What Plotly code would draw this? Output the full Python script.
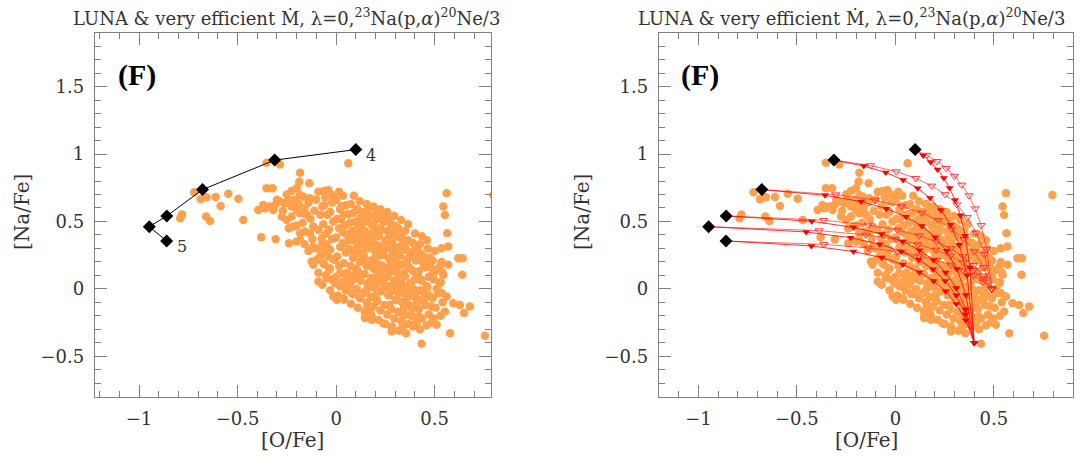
import plotly.graph_objects as go

# ---------------- observed stars ([O/Fe], [Na/Fe]) ----------------
star_points = [
    (-0.791, 0.524), (-0.782, 0.551), (-0.720, 0.716), (-0.687, 0.664), (-0.657, 0.679),
    (-0.660, 0.536), (-0.640, 0.504), (-0.611, 0.682), (-0.586, 0.615), (-0.547, 0.706),
    (-0.496, 0.669), (-0.471, 0.511),
    (-0.395, 0.585), (-0.370, 0.622), (-0.361, 0.598), (-0.336, 0.610), (-0.319, 0.585),
    (-0.310, 0.622), (-0.285, 0.647), (-0.260, 0.635), (-0.243, 0.659), (-0.226, 0.610),
    (-0.200, 0.585), (-0.183, 0.561), (-0.276, 0.536), (-0.251, 0.511), (-0.226, 0.536),
    (-0.217, 0.462), (-0.183, 0.413), (-0.158, 0.425), (-0.133, 0.413), (-0.116, 0.462),
    (-0.090, 0.437), (-0.073, 0.375), (-0.307, 0.368), (-0.380, 0.383), (-0.239, 0.338),
    (-0.200, 0.351), (-0.183, 0.363), (-0.116, 0.314), (-0.099, 0.215), (-0.082, 0.240),
    (-0.124, 0.203), (-0.116, 0.178), (-0.090, 0.054), (-0.048, 0.079), (-0.031, 0.153),
    (-0.006, 0.215), (-0.006, 0.042),
    (-0.226, 0.726), (-0.200, 0.746), (-0.183, 0.696), (-0.166, 0.684), (-0.133, 0.672),
    (-0.090, 0.721), (-0.065, 0.726), (-0.048, 0.704), (-0.040, 0.733), (-0.014, 0.684),
    (-0.183, 0.862), (-0.187, 0.795), (-0.136, 0.783), (-0.353, 0.746), (-0.322, 0.746),
    (-0.353, 0.936), (-0.285, 0.923), (0.062, 0.931),
    (-0.300, 0.660), (-0.270, 0.580), (-0.250, 0.700), (-0.210, 0.660), (-0.190, 0.630),
    (-0.160, 0.600), (-0.150, 0.550), (-0.130, 0.520), (-0.170, 0.490), (-0.200, 0.470),
    (-0.240, 0.450), (-0.140, 0.640), (-0.110, 0.580), (-0.100, 0.660), (-0.080, 0.550),
    (-0.060, 0.620), (-0.120, 0.370), (-0.160, 0.330), (-0.140, 0.280), (-0.100, 0.300),
    (-0.070, 0.280), (-0.050, 0.330), (-0.090, 0.120), (-0.060, 0.180), (-0.040, 0.240),
    (-0.070, 0.030), (-0.050, 0.100), (-0.065, 0.190), (-0.055, 0.260), (-0.070, 0.340),
    (-0.050, 0.410), (-0.065, 0.480), (-0.045, 0.550), (-0.070, 0.610), (-0.055, 0.680),
    (-0.030, -0.010), (-0.020, 0.070), (-0.035, 0.140), (-0.015, 0.220), (-0.030, 0.290),
    (-0.020, 0.370), (-0.035, 0.440), (-0.015, 0.500), (-0.030, 0.570), (-0.020, 0.640),
    (-0.025, 0.700),
    (0.010, -0.050), (0.020, 0.020), (0.000, 0.090), (0.015, 0.170), (0.005, 0.240),
    (0.020, 0.310), (0.000, 0.380), (0.015, 0.450), (0.005, 0.520), (0.020, 0.590),
    (0.000, 0.660), (0.015, 0.720),
    (0.040, -0.080), (0.050, -0.010), (0.035, 0.050), (0.055, 0.120), (0.040, 0.190),
    (0.050, 0.270), (0.035, 0.340), (0.055, 0.400), (0.045, 0.470), (0.040, 0.550),
    (0.050, 0.620), (0.035, 0.690),
    (0.075, -0.110), (0.085, -0.040), (0.070, 0.030), (0.090, 0.100), (0.075, 0.170),
    (0.085, 0.230), (0.070, 0.290), (0.090, 0.360), (0.080, 0.430), (0.070, 0.490),
    (0.085, 0.560), (0.075, 0.630), (0.090, 0.690),
    (0.110, -0.140), (0.120, -0.070), (0.105, 0.000), (0.125, 0.060), (0.110, 0.130),
    (0.120, 0.200), (0.105, 0.260), (0.125, 0.330), (0.115, 0.390), (0.110, 0.460),
    (0.120, 0.520), (0.105, 0.590), (0.120, 0.650),
    (0.145, -0.170), (0.155, -0.100), (0.140, -0.030), (0.160, 0.040), (0.145, 0.110),
    (0.155, 0.170), (0.140, 0.240), (0.160, 0.300), (0.150, 0.370), (0.145, 0.430),
    (0.155, 0.500), (0.140, 0.570), (0.155, 0.630),
    (0.180, -0.200), (0.190, -0.130), (0.175, -0.060), (0.195, 0.010), (0.180, 0.080),
    (0.190, 0.150), (0.175, 0.210), (0.195, 0.280), (0.185, 0.350), (0.180, 0.410),
    (0.190, 0.480), (0.175, 0.540), (0.190, 0.610),
    (0.215, -0.230), (0.225, -0.160), (0.210, -0.090), (0.230, -0.020), (0.215, 0.050),
    (0.225, 0.120), (0.210, 0.190), (0.230, 0.250), (0.220, 0.320), (0.215, 0.390),
    (0.225, 0.450), (0.210, 0.520), (0.225, 0.590),
    (0.250, -0.260), (0.260, -0.190), (0.245, -0.120), (0.265, -0.050), (0.250, 0.020),
    (0.260, 0.090), (0.245, 0.160), (0.265, 0.230), (0.255, 0.300), (0.250, 0.360),
    (0.260, 0.430), (0.245, 0.500), (0.260, 0.570),
    (0.285, -0.290), (0.295, -0.220), (0.280, -0.150), (0.300, -0.080), (0.285, -0.010),
    (0.295, 0.060), (0.280, 0.130), (0.300, 0.200), (0.290, 0.270), (0.285, 0.340),
    (0.295, 0.410), (0.280, 0.480), (0.295, 0.540),
    (0.320, -0.310), (0.330, -0.240), (0.315, -0.170), (0.335, -0.100), (0.320, -0.030),
    (0.330, 0.040), (0.315, 0.110), (0.335, 0.180), (0.325, 0.250), (0.320, 0.310),
    (0.330, 0.380), (0.315, 0.450), (0.330, 0.510),
    (0.355, -0.330), (0.365, -0.260), (0.350, -0.190), (0.370, -0.120), (0.355, -0.050),
    (0.365, 0.020), (0.350, 0.090), (0.370, 0.160), (0.360, 0.220), (0.355, 0.290),
    (0.365, 0.360), (0.350, 0.430), (0.365, 0.480),
    (0.390, -0.280), (0.400, -0.210), (0.385, -0.140), (0.405, -0.070), (0.390, 0.000),
    (0.400, 0.070), (0.385, 0.140), (0.405, 0.210), (0.395, 0.270), (0.390, 0.340),
    (0.400, 0.410),
    (0.425, -0.300), (0.435, -0.220), (0.420, -0.150), (0.440, -0.080), (0.425, -0.010),
    (0.435, 0.060), (0.420, 0.130), (0.440, 0.200), (0.430, 0.260), (0.425, 0.330),
    (0.435, 0.390),
    (0.460, -0.270), (0.470, -0.190), (0.455, -0.120), (0.475, -0.050), (0.460, 0.020),
    (0.470, 0.090), (0.455, 0.160), (0.475, 0.230), (0.465, 0.300), (0.460, 0.360),
    (0.495, -0.220), (0.505, -0.140), (0.490, -0.070), (0.510, 0.000), (0.495, 0.070),
    (0.505, 0.140), (0.490, 0.210), (0.500, 0.280),
    (0.530, -0.200), (0.540, -0.100), (0.535, -0.030), (0.530, 0.050), (0.540, 0.120),
    (0.535, 0.200),
    (0.060, 0.080), (0.065, 0.300), (0.100, 0.150), (0.100, 0.410), (0.135, 0.270),
    (0.130, 0.480), (0.170, 0.050), (0.165, 0.330), (0.200, 0.180), (0.205, 0.440),
    (0.240, 0.060), (0.235, 0.280), (0.235, 0.550), (0.275, 0.170), (0.270, 0.390),
    (0.310, 0.010), (0.305, 0.230), (0.310, 0.440), (0.345, 0.120), (0.340, 0.340),
    (0.380, -0.020), (0.375, 0.250), (0.415, 0.100), (0.410, 0.300), (0.450, -0.040),
    (0.445, 0.170), (0.200, -0.050), (0.270, -0.120), (0.340, -0.200), (0.410, -0.250),
    (0.160, -0.130),
    (0.027, 0.612), (0.063, 0.553), (0.098, 0.497), (0.131, 0.438), (0.168, 0.381),
    (0.203, 0.327), (0.238, 0.268), (0.273, 0.214), (0.308, 0.157), (0.343, 0.098),
    (0.378, 0.043), (0.413, -0.016), (0.448, -0.072), (0.483, -0.131),
    (0.033, 0.421), (0.067, 0.362), (0.104, 0.306), (0.139, 0.249), (0.172, 0.193),
    (0.211, 0.137), (0.244, 0.081), (0.281, 0.024), (0.316, -0.033), (0.351, -0.088),
    (0.386, -0.149), (0.421, -0.204),
    (0.112, 0.583), (0.148, 0.527), (0.183, 0.468), (0.219, 0.412), (0.253, 0.356),
    (0.289, 0.299), (0.322, 0.243), (0.357, 0.186), (0.393, 0.128), (0.428, 0.072),
    (0.463, 0.012),
    (0.167, 0.597), (0.203, 0.556), (0.241, 0.497), (0.276, 0.443), (0.311, 0.386),
    (0.346, 0.329), (0.381, 0.272), (0.416, 0.217), (0.452, 0.161), (0.487, 0.103),
    (0.262, 0.524), (0.297, 0.468), (0.334, 0.411), (0.369, 0.354), (0.404, 0.297),
    (0.441, 0.241), (0.478, 0.187),
    (0.024, 0.517), (0.094, 0.399), (0.128, 0.343), (0.199, 0.231), (0.234, 0.174),
    (0.268, 0.118), (0.305, 0.062), (0.338, 0.003), (0.374, -0.053), (0.409, -0.108),
    (0.098, 0.262), (0.133, 0.204), (0.204, 0.089), (0.274, -0.026), (0.309, -0.083),
    (0.344, -0.141), (0.379, -0.197), (0.239, 0.033),
    (0.146, -0.217), (0.180, -0.230), (0.239, -0.255), (0.282, -0.316), (0.282, -0.279),
    (0.336, -0.291), (0.392, -0.267), (0.434, -0.407), (0.490, -0.242), (0.510, -0.267),
    (0.484, -0.250), (0.594, -0.106), (0.628, -0.119), (0.649, -0.180), (0.552, -0.168),
    (0.561, -0.057), (0.519, -0.032), (0.527, 0.042), (0.493, 0.116), (0.476, 0.165),
    (0.544, 0.104), (0.527, 0.165),
    (0.561, 0.709), (0.797, 0.696), (0.544, 0.610), (0.552, 0.548), (0.564, 0.412),
    (0.569, 0.314), (0.535, 0.301), (0.620, 0.227), (0.642, 0.227), (0.569, 0.178),
    (0.640, 0.104), (0.679, -0.131), (0.755, -0.348), (0.578, -0.329),
    (-0.014, -0.057), (0.003, -0.081), (0.037, -0.069), (0.079, -0.032), (0.121, -0.057),
    (0.155, -0.155), (0.175, -0.180), (0.147, -0.205), (0.185, -0.225), (0.045, 0.017),
    (0.087, 0.067), (0.121, 0.091), (0.155, -0.007), (0.189, 0.017), (0.206, -0.081),
    (0.020, 0.116), (0.053, 0.091),
]
star_ofe = [p[0] for p in star_points]
star_nafe = [p[1] for p in star_points]

# ---------------- AGB model yields (diamonds), from label "5" to label "4" ----------------
agb_ofe = [-0.860, -0.948, -0.859, -0.678, -0.312, 0.100]
agb_nafe = [0.355, 0.461, 0.541, 0.736, 0.955, 1.033]
agb_labels = ["5", "", "", "", "", "4"]

# ---------------- dilution sequences (right panel), one list per model ----------------
dil_filled_ofe = [
    [-0.426, -0.213, -0.070, 0.037, 0.122, 0.194, 0.255, 0.309, 0.357, 0.400],
    [-0.453, -0.227, -0.080, 0.030, 0.118, 0.191, 0.253, 0.308, 0.356, 0.400],
    [-0.425, -0.213, -0.070, 0.037, 0.122, 0.194, 0.255, 0.309, 0.357, 0.400],
    [-0.357, -0.174, -0.046, 0.053, 0.134, 0.202, 0.260, 0.312, 0.358, 0.400],
    [-0.161, -0.049, 0.039, 0.113, 0.176, 0.231, 0.280, 0.324, 0.364, 0.400],
    [0.141, 0.179, 0.214, 0.246, 0.275, 0.303, 0.330, 0.354, 0.378, 0.400],
]
dil_filled_nafe = [
    [0.318, 0.277, 0.232, 0.181, 0.124, 0.059, -0.018, -0.113, -0.233, -0.400],
    [0.422, 0.379, 0.331, 0.277, 0.216, 0.145, 0.059, -0.047, -0.189, -0.400],
    [0.501, 0.456, 0.407, 0.351, 0.287, 0.212, 0.121, 0.006, -0.151, -0.400],
    [0.694, 0.647, 0.595, 0.535, 0.466, 0.383, 0.282, 0.148, -0.045, -0.400],
    [0.911, 0.863, 0.808, 0.746, 0.673, 0.585, 0.475, 0.327, 0.100, -0.400],
    [0.989, 0.940, 0.885, 0.822, 0.748, 0.659, 0.546, 0.394, 0.158, -0.400],
]
dil_open_ofe = [
    [-0.363, -0.138, 0.010, 0.120, 0.208, 0.281, 0.343, 0.398, 0.446, 0.490],
    [-0.387, -0.150, 0.003, 0.115, 0.205, 0.279, 0.342, 0.397, 0.446, 0.490],
    [-0.363, -0.137, 0.010, 0.120, 0.208, 0.281, 0.343, 0.398, 0.446, 0.490],
    [-0.303, -0.105, 0.031, 0.134, 0.218, 0.287, 0.348, 0.400, 0.448, 0.490],
    [-0.126, 0.004, 0.103, 0.184, 0.253, 0.312, 0.364, 0.410, 0.452, 0.490],
    [0.159, 0.211, 0.257, 0.299, 0.337, 0.373, 0.405, 0.435, 0.463, 0.490],
]
dil_open_nafe = [
    [0.330, 0.304, 0.276, 0.245, 0.213, 0.178, 0.140, 0.098, 0.052, 0.000],
    [0.432, 0.400, 0.366, 0.329, 0.289, 0.245, 0.195, 0.139, 0.075, 0.000],
    [0.509, 0.474, 0.437, 0.395, 0.350, 0.299, 0.241, 0.175, 0.096, 0.000],
    [0.699, 0.659, 0.614, 0.564, 0.508, 0.444, 0.368, 0.276, 0.160, 0.000],
    [0.915, 0.870, 0.820, 0.764, 0.700, 0.624, 0.532, 0.416, 0.256, 0.000],
    [0.992, 0.946, 0.895, 0.837, 0.771, 0.692, 0.595, 0.471, 0.296, 0.000],
]

title_text = "LUNA &amp; very efficient Ṁ, λ=0,<sup>23</sup>Na(p,<i>α</i>)<sup>20</sup>Ne/3"
panel_tag = "<b>(F)</b>"

W, H = 1092, 460
STAR_COLOR = "#FFA04D"
RED = "#FF0000"
AXIS_GREY = "#808080"
SERIF = "DejaVu Serif"

fig = go.Figure()

# ---- left panel
fig.add_trace(go.Scatter(x=star_ofe, y=star_nafe, mode="markers", xaxis="x", yaxis="y",
                         marker=dict(color=STAR_COLOR, size=8.5, line=dict(width=0)),
                         showlegend=False, hoverinfo="skip"))
fig.add_trace(go.Scatter(x=agb_ofe, y=agb_nafe, mode="lines+markers", xaxis="x", yaxis="y",
                         line=dict(color="black", width=1),
                         marker=dict(symbol="diamond", color="black", size=10),
                         showlegend=False))

# ---- right panel
fig.add_trace(go.Scatter(x=star_ofe, y=star_nafe, mode="markers", xaxis="x2", yaxis="y2",
                         marker=dict(color=STAR_COLOR, size=8.5, line=dict(width=0)),
                         showlegend=False, hoverinfo="skip"))
for i in range(len(agb_ofe)):
    fig.add_trace(go.Scatter(x=[agb_ofe[i]] + dil_open_ofe[i], y=[agb_nafe[i]] + dil_open_nafe[i],
                             mode="lines", xaxis="x2", yaxis="y2",
                             line=dict(color="rgba(255,40,40,0.85)", width=0.8), showlegend=False))
    fig.add_trace(go.Scatter(x=[agb_ofe[i]] + dil_filled_ofe[i], y=[agb_nafe[i]] + dil_filled_nafe[i],
                             mode="lines", xaxis="x2", yaxis="y2",
                             line=dict(color=RED, width=0.8), showlegend=False))
for i in range(len(agb_ofe)):
    fig.add_trace(go.Scatter(x=dil_open_ofe[i], y=dil_open_nafe[i], mode="markers",
                             xaxis="x2", yaxis="y2",
                             marker=dict(symbol="triangle-down-open", color="rgba(255,40,40,0.9)",
                                         size=7, line=dict(width=1)),
                             showlegend=False))
    fig.add_trace(go.Scatter(x=dil_filled_ofe[i], y=dil_filled_nafe[i], mode="markers",
                             xaxis="x2", yaxis="y2",
                             marker=dict(symbol="triangle-down", color=RED, size=7, line=dict(width=0)),
                             showlegend=False))
fig.add_trace(go.Scatter(x=agb_ofe, y=agb_nafe, mode="markers", xaxis="x2", yaxis="y2",
                         marker=dict(symbol="diamond", color="black", size=10), showlegend=False))

y_dom = [1 - 396.7 / H, 1 - 32.7 / H]
left_dom = [95 / W, 491 / W]
right_dom = [659 / W, 1072.7 / W]

def axis(domain, rng, anchor):
    return dict(domain=domain, range=rng, anchor=anchor, showline=True, linecolor=AXIS_GREY,
                linewidth=1.3, mirror="allticks", ticks="inside", ticklen=12, tickwidth=1,
                tickcolor=AXIS_GREY, showgrid=False, zeroline=False, dtick=0.5, tick0=0,
                tickfont=dict(family=SERIF, size=18, color="#333333"), ticklabelstandoff=6,
                minor=dict(ticks="inside", ticklen=6, dtick=0.1, tickcolor=AXIS_GREY,
                           tickwidth=1, showgrid=False))

fig.update_layout(
    width=W, height=H, margin=dict(l=0, r=0, t=0, b=0),
    paper_bgcolor="white", plot_bgcolor="white",
    xaxis=axis(left_dom, [-1.2235, 0.786], "y"),
    yaxis=axis(y_dom, [-0.8, 1.9], "x"),
    xaxis2=axis(right_dom, [-1.2, 0.9], "y2"),
    yaxis2=axis(y_dom, [-0.8, 1.9], "x2"),
)

ann = []
for cx in (286, 851):
    ann.append(dict(text=title_text, x=cx / W, y=1 - 17 / H, xref="paper", yref="paper",
                    xanchor="center", yanchor="middle", showarrow=False,
                    font=dict(family=SERIF, size=18, color="#333333")))
for cx in (292, 866):
    ann.append(dict(text="[O/Fe]", x=cx / W, y=1 - 440 / H, xref="paper", yref="paper",
                    xanchor="center", yanchor="middle", showarrow=False,
                    font=dict(family=SERIF, size=20, color="#333333")))
for cx in (22, 582):
    ann.append(dict(text="[Na/Fe]", x=cx / W, y=1 - 212 / H, xref="paper", yref="paper",
                    xanchor="center", yanchor="middle", showarrow=False, textangle=-90,
                    font=dict(family=SERIF, size=20, color="#333333")))
for cx in (137, 700):
    ann.append(dict(text=panel_tag, x=cx / W, y=1 - 75 / H, xref="paper", yref="paper",
                    xanchor="center", yanchor="middle", showarrow=False,
                    font=dict(family="Liberation Serif", size=30, color="black")))
for xv, yv, lab in zip(agb_ofe, agb_nafe, agb_labels):
    if lab:
        ann.append(dict(text=lab, x=xv, y=yv, xref="x", yref="y", xanchor="left",
                        yanchor="middle", xshift=8, yshift=-6, showarrow=False,
                        font=dict(family=SERIF, size=16, color="#333333")))
fig.update_layout(annotations=ann)

fig.write_html("out.html")
